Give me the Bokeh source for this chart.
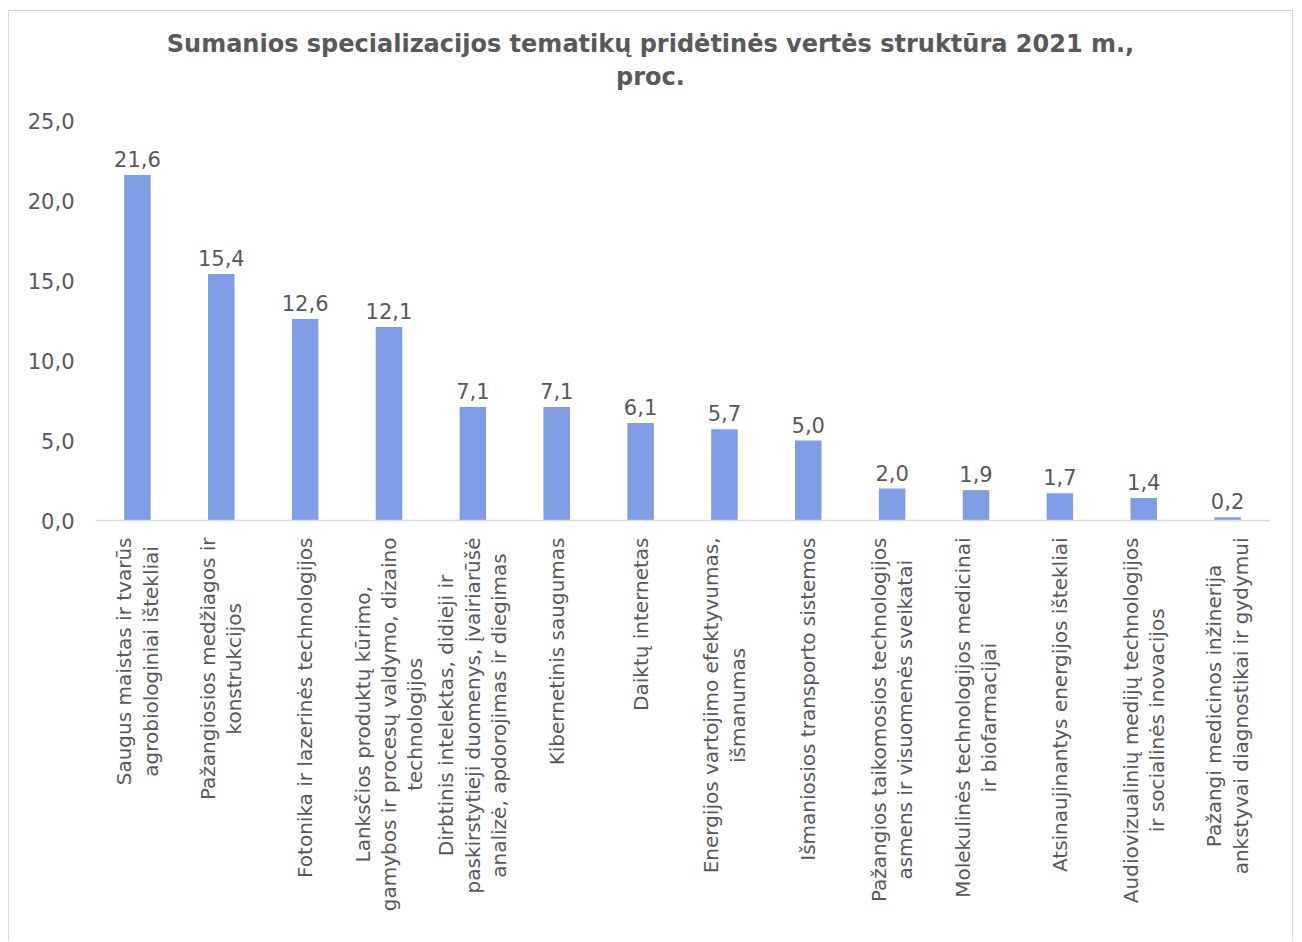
import math
from bokeh.plotting import figure
from bokeh.models import (ColumnDataSource, Range1d, FixedTicker, CustomJSTickFormatter)
from bokeh.core.properties import value
from bokeh.embed import file_html
from bokeh.resources import INLINE

title_lines = ["Sumanios specializacijos tematikų pridėtinės vertės struktūra 2021 m.,", "proc."]
categories = [
    "Saugus maistas ir tvarūs\nagrobiologiniai ištekliai",
    "Pažangiosios medžiagos ir\nkonstrukcijos",
    "Fotonika ir lazerinės technologijos",
    "Lanksčios produktų kūrimo,\ngamybos ir procesų valdymo, dizaino\ntechnologijos",
    "Dirbtinis intelektas, didieji ir\npaskirstytieji duomenys, įvairiarūšė\nanalizė, apdorojimas ir diegimas",
    "Kibernetinis saugumas",
    "Daiktų internetas",
    "Energijos vartojimo efektyvumas,\nišmanumas",
    "Išmaniosios transporto sistemos",
    "Pažangios taikomosios technologijos\nasmens ir visuomenės sveikatai",
    "Molekulinės technologijos medicinai\nir biofarmacijai",
    "Atsinaujinantys energijos ištekliai",
    "Audiovizualinių medijų technologijos\nir socialinės inovacijos",
    "Pažangi medicinos inžinerija\nankstyvai diagnostikai ir gydymui",
]
values = [21.6, 15.4, 12.6, 12.1, 7.1, 7.1, 6.1, 5.7, 5.0, 2.0, 1.9, 1.7, 1.4, 0.2]
y_ticks = [0, 5, 10, 15, 20, 25]
y_max = 25

FONT = "DejaVu Sans"
GRAY = "#595959"
BAR = "#7F9DE4"
LINE = "#D9D9D9"

# layout (pixels)
W, H = 1285, 931
LEFT, RIGHT = 86, 25
PLOT_TOP = 109          # canvas y of the value 25
PLOT_H = 400            # pixel height of 0..25
PX = PLOT_H / y_max
y_lo = -(H - PLOT_TOP - PLOT_H) / PX
y_hi = y_max + PLOT_TOP / PX

n = len(categories)
xs = [i + 0.5 for i in range(n)]
value_labels = [f"{v:.1f}".replace(".", ",") for v in values]
src = ColumnDataSource(dict(x=xs, top=values, lab=value_labels))
cat_src = ColumnDataSource(dict(x=xs, y=[0] * n, text=categories))

p = figure(width=W, height=H, x_range=Range1d(0, n), y_range=Range1d(y_lo, y_hi),
           output_backend="svg", toolbar_location=None,
           min_border_left=LEFT, min_border_right=RIGHT, min_border_top=0, min_border_bottom=0)
p.styles = {"margin-left": "8px", "margin-top": "10px",
            "border-left": f"1px solid {LINE}", "border-top": f"1px solid {LINE}",
            "border-right": f"1px solid {LINE}"}
p.outline_line_color = None
p.xgrid.grid_line_color = None
p.ygrid.grid_line_color = None
p.background_fill_color = "white"
p.border_fill_color = "white"
p.xaxis.visible = False

# bars and value labels
p.vbar(x="x", top="top", bottom=0, width=0.316, source=src, fill_color=BAR, line_color=None)
p.text(x="x", y="top", text="lab", source=src, y_offset=-16, text_align="center",
       text_baseline="alphabetic", text_font=value(FONT), text_font_size="21px", text_color=GRAY)

# category axis line
p.line(x=[0, n], y=[0, 0], line_color=LINE, line_width=1.5)

# category labels (rotated, lines centered, block starting just under the axis)
p.text(x="x", y="y", text="text", source=cat_src, angle=math.pi / 2,
       anchor=value("center_right"), y_offset=17, text_align="center",
       text_baseline="middle", text_line_height=1.1, text_font=value(FONT),
       text_font_size="20px", text_color=GRAY)

# title
p.text(x=[n / 2], y=[y_max], text=["\n".join(title_lines)], x_offset=-32, y_offset=-60,
       text_align="center", text_baseline="middle", text_line_height=1.17,
       text_font=value(FONT), text_font_size="24px", text_font_style="bold",
       text_color=GRAY)

# y axis
p.yaxis.ticker = FixedTicker(ticks=y_ticks)
p.yaxis.formatter = CustomJSTickFormatter(code="return tick.toFixed(1).replace('.', ',');")
p.yaxis.axis_line_color = None
p.yaxis.major_tick_line_color = None
p.yaxis.minor_tick_line_color = None
p.yaxis.major_tick_out = 0
p.yaxis.major_tick_in = 0
p.yaxis.major_label_standoff = 21
p.yaxis.major_label_text_font = FONT
p.yaxis.major_label_text_font_size = "21px"
p.yaxis.major_label_text_color = GRAY

open("out.html", "w").write(file_html(p, INLINE))
